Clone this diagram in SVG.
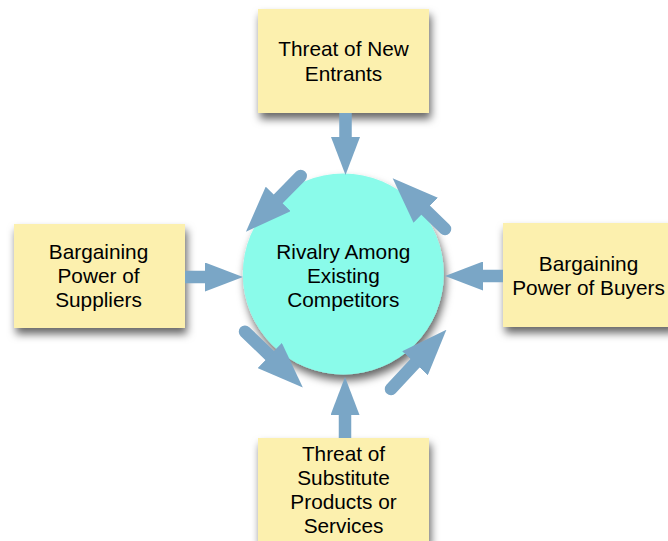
<svg xmlns="http://www.w3.org/2000/svg" width="668" height="541" viewBox="0 0 668 541">
  <defs>
    <style>
      .box { fill: #fcf0ae; filter: url(#shadow); }
      .hub { fill: #8afbea; filter: url(#shadow); }
      .label { font-family: "Liberation Sans", Arial, Helvetica, sans-serif; font-size: 20.8px; fill: #000000; text-anchor: middle; }
      .shaft { stroke: #7aa6c6; stroke-width: 12.5; fill: none; }
      .straight { stroke-linecap: butt; marker-end: url(#head-s); }
      .diag { stroke-linecap: round; marker-end: url(#head-d); }
    </style>
    <filter id="shadow" x="-20%" y="-20%" width="150%" height="160%">
      <feGaussianBlur in="SourceAlpha" stdDeviation="4"/>
      <feOffset dx="2" dy="6" result="blur"/>
      <feFlood flood-color="#000000" flood-opacity="0.6"/>
      <feComposite in2="blur" operator="in"/>
      <feMerge>
        <feMergeNode/>
        <feMergeNode in="SourceGraphic"/>
      </feMerge>
    </filter>
    <!-- arrowheads start where the shaft ends -->
    <marker id="head-s" markerUnits="userSpaceOnUse" orient="auto" markerWidth="38" markerHeight="29" viewBox="0 0 38 29" refX="0" refY="14.5">
      <path d="M0,0 L38,14.5 L0,29 Z" fill="#7aa6c6"/>
    </marker>
    <marker id="head-d" markerUnits="userSpaceOnUse" orient="auto" markerWidth="46" markerHeight="35" viewBox="0 0 46 35" refX="0" refY="17.5">
      <path d="M0,0 L46,17.5 L0,35 Z" fill="#7aa6c6"/>
    </marker>
  </defs>

  <rect width="668" height="541" fill="#ffffff"/>

  <g id="new-entrants">
    <rect class="box" x="258" y="9" width="171" height="104"/>
    <text class="label" x="343.5" y="56">Threat of New</text>
    <text class="label" x="343.5" y="80.5">Entrants</text>
  </g>

  <g id="suppliers">
    <rect class="box" x="14" y="224" width="171" height="104"/>
    <text class="label" x="98.5" y="258.5">Bargaining</text>
    <text class="label" x="98.5" y="282.5">Power of</text>
    <text class="label" x="98.5" y="306.5">Suppliers</text>
  </g>

  <g id="buyers">
    <rect class="box" x="503" y="223" width="171" height="104"/>
    <text class="label" x="588.5" y="270.5">Bargaining</text>
    <text class="label" x="588.5" y="294.5">Power of Buyers</text>
  </g>

  <g id="substitutes">
    <rect class="box" x="258" y="438" width="171" height="104"/>
    <text class="label" x="343.5" y="461">Threat of</text>
    <text class="label" x="343.5" y="485">Substitute</text>
    <text class="label" x="343.5" y="509">Products or</text>
    <text class="label" x="343.5" y="533">Services</text>
  </g>

  <g id="rivalry">
    <circle class="hub" cx="343.3" cy="274" r="100.5"/>
    <text class="label" x="343.3" y="259">Rivalry Among</text>
    <text class="label" x="343.3" y="283">Existing</text>
    <text class="label" x="343.3" y="307">Competitors</text>
  </g>

  <g id="connectors">
    <!-- forces pushing in on the centre -->
    <line class="shaft straight" x1="345.5" y1="113" x2="345.5" y2="137"/>
    <line class="shaft straight" x1="185" y1="277" x2="205" y2="277"/>
    <line class="shaft straight" x1="503" y1="276" x2="483" y2="276"/>
    <line class="shaft straight" x1="345" y1="438" x2="345" y2="415"/>
    <!-- diagonal arrows around the circle -->
    <line class="shaft diag" x1="300.7" y1="176" x2="278.2" y2="198.9"/>
    <line class="shaft diag" x1="445" y1="229" x2="425.7" y2="210.3"/>
    <line class="shaft diag" x1="245" y1="331.7" x2="269.7" y2="355.5"/>
    <line class="shaft diag" x1="391" y1="389" x2="415" y2="363.3"/>
  </g>
</svg>
